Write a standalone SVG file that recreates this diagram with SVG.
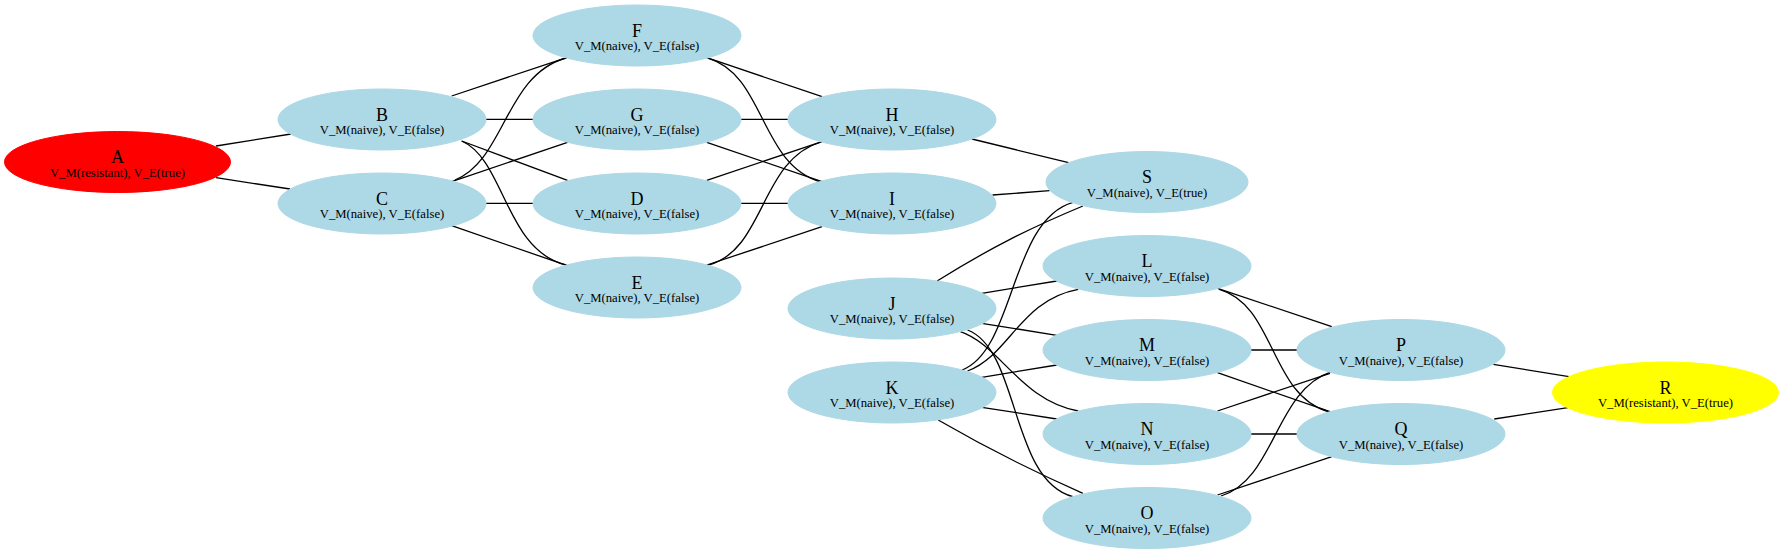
<svg xmlns="http://www.w3.org/2000/svg" width="1784" height="554" viewBox="0 0 1784 554">
<style>
.nb{fill:#add8e6;stroke:#add8e6;stroke-width:1}
.nr{fill:#ff0000;stroke:#ff0000;stroke-width:1}
.ny{fill:#ffff00;stroke:#ffff00;stroke-width:1}
.t{font-family:"Liberation Serif","Times New Roman",serif;font-size:18px;text-anchor:middle;fill:#000}
.s{font-family:"Liberation Serif","Times New Roman",serif;font-size:12.7px;text-anchor:middle;fill:#000}
.e{fill:none;stroke:#000;stroke-width:1.3}
</style>
<rect width="1784" height="554" fill="#fff"/>
<g id="edges">
<path class="e" d="M216,146L291,134"/>
<path class="e" d="M216,177.7L290,189"/>
<path class="e" d="M451.7,96L567.5,57.3"/>
<path class="e" d="M486,119.3L533,119.3"/>
<path class="e" d="M461.7,141L567.5,180.3"/>
<path class="e" d="M461.7,141C505,160 505,250 566,265"/>
<path class="e" d="M455,180C505,160 505,75 566,58"/>
<path class="e" d="M451.7,181.7L567.5,142.3"/>
<path class="e" d="M486,203.3L533,203.3"/>
<path class="e" d="M451.7,225.7L567.5,265.7"/>
<path class="e" d="M706.8,57.7L822.1,96.7"/>
<path class="e" d="M708.6,58.3C765,75 760,165 821,182"/>
<path class="e" d="M741,119.3L788,119.3"/>
<path class="e" d="M706.8,142.3L822,181.7"/>
<path class="e" d="M706.8,180.3L822,141.7"/>
<path class="e" d="M741,203.3L788,203.3"/>
<path class="e" d="M708.6,265C765,250 760,160 821,142"/>
<path class="e" d="M706.8,265L822,226.7"/>
<path class="e" d="M972,139L1068.6,162.7"/>
<path class="e" d="M992.5,195L1049.6,190.7"/>
<path class="e" d="M937.1,281C990,248 1030,228 1082.9,206"/>
<path class="e" d="M962,370C1015,350 1010,220 1073,202.3"/>
<path class="e" d="M981.8,293.3L1056.8,281"/>
<path class="e" d="M967.5,371C1010,355 1020,300 1078.2,289.3"/>
<path class="e" d="M981.8,323.3L1056.8,335.3"/>
<path class="e" d="M981.8,377.3L1056.8,365"/>
<path class="e" d="M960.4,331.7C1000,345 1020,400 1078.2,411"/>
<path class="e" d="M967.5,330C1020,350 1010,480 1072.9,496.7"/>
<path class="e" d="M981.8,407.3L1056.8,419"/>
<path class="e" d="M938.2,420C990,450 1030,470 1082.9,493.3"/>
<path class="e" d="M1217.5,288.3L1331.8,326.7"/>
<path class="e" d="M1219.3,289.3C1275,305 1270,395 1328.2,411.7"/>
<path class="e" d="M1250.7,350L1297.9,350"/>
<path class="e" d="M1217.5,372.7L1330,411.7"/>
<path class="e" d="M1217.5,411L1330,373.3"/>
<path class="e" d="M1250.7,434L1297.9,434"/>
<path class="e" d="M1217.5,495L1331.8,456.7"/>
<path class="e" d="M1221,496C1275,480 1275,390 1331.8,371.7"/>
<path class="e" d="M1493.3,364.3L1569,376.7"/>
<path class="e" d="M1494.3,419L1567.9,407.7"/>
</g>
<g id="A"><ellipse class="nr" cx="117.5" cy="162" rx="113" ry="30.5"/><text class="t" x="117.5" y="163">A</text><text class="s" x="117.5" y="176.5">V_M(resistant), V_E(true)</text></g>
<g id="B"><ellipse class="nb" cx="382" cy="119.5" rx="104" ry="30.5"/><text class="t" x="382" y="120.5">B</text><text class="s" x="382" y="134">V_M(naive), V_E(false)</text></g>
<g id="C"><ellipse class="nb" cx="382" cy="203.5" rx="104" ry="30.5"/><text class="t" x="382" y="204.5">C</text><text class="s" x="382" y="218">V_M(naive), V_E(false)</text></g>
<g id="F"><ellipse class="nb" cx="637" cy="35.5" rx="104" ry="30.5"/><text class="t" x="637" y="36.5">F</text><text class="s" x="637" y="50">V_M(naive), V_E(false)</text></g>
<g id="G"><ellipse class="nb" cx="637" cy="119.5" rx="104" ry="30.5"/><text class="t" x="637" y="120.5">G</text><text class="s" x="637" y="134">V_M(naive), V_E(false)</text></g>
<g id="D"><ellipse class="nb" cx="637" cy="203.5" rx="104" ry="30.5"/><text class="t" x="637" y="204.5">D</text><text class="s" x="637" y="218">V_M(naive), V_E(false)</text></g>
<g id="E"><ellipse class="nb" cx="637" cy="287.5" rx="104" ry="30.5"/><text class="t" x="637" y="288.5">E</text><text class="s" x="637" y="302">V_M(naive), V_E(false)</text></g>
<g id="H"><ellipse class="nb" cx="892" cy="119.5" rx="104" ry="30.5"/><text class="t" x="892" y="120.5">H</text><text class="s" x="892" y="134">V_M(naive), V_E(false)</text></g>
<g id="I"><ellipse class="nb" cx="892" cy="203.5" rx="104" ry="30.5"/><text class="t" x="892" y="204.5">I</text><text class="s" x="892" y="218">V_M(naive), V_E(false)</text></g>
<g id="J"><ellipse class="nb" cx="892" cy="308.5" rx="104" ry="30.5"/><text class="t" x="892" y="309.5">J</text><text class="s" x="892" y="323">V_M(naive), V_E(false)</text></g>
<g id="K"><ellipse class="nb" cx="892" cy="392.5" rx="104" ry="30.5"/><text class="t" x="892" y="393.5">K</text><text class="s" x="892" y="407">V_M(naive), V_E(false)</text></g>
<g id="S"><ellipse class="nb" cx="1147" cy="182" rx="101" ry="30.5"/><text class="t" x="1147" y="183">S</text><text class="s" x="1147" y="196.5">V_M(naive), V_E(true)</text></g>
<g id="L"><ellipse class="nb" cx="1147" cy="266" rx="104" ry="30.5"/><text class="t" x="1147" y="267">L</text><text class="s" x="1147" y="280.5">V_M(naive), V_E(false)</text></g>
<g id="M"><ellipse class="nb" cx="1147" cy="350" rx="104" ry="30.5"/><text class="t" x="1147" y="351">M</text><text class="s" x="1147" y="364.5">V_M(naive), V_E(false)</text></g>
<g id="N"><ellipse class="nb" cx="1147" cy="434" rx="104" ry="30.5"/><text class="t" x="1147" y="435">N</text><text class="s" x="1147" y="448.5">V_M(naive), V_E(false)</text></g>
<g id="O"><ellipse class="nb" cx="1147" cy="518" rx="104" ry="30.5"/><text class="t" x="1147" y="519">O</text><text class="s" x="1147" y="532.5">V_M(naive), V_E(false)</text></g>
<g id="P"><ellipse class="nb" cx="1401" cy="350" rx="104" ry="30.5"/><text class="t" x="1401" y="351">P</text><text class="s" x="1401" y="364.5">V_M(naive), V_E(false)</text></g>
<g id="Q"><ellipse class="nb" cx="1401" cy="434" rx="104" ry="30.5"/><text class="t" x="1401" y="435">Q</text><text class="s" x="1401" y="448.5">V_M(naive), V_E(false)</text></g>
<g id="R"><ellipse class="ny" cx="1665.5" cy="392.5" rx="113" ry="30.5"/><text class="t" x="1665.5" y="393.5">R</text><text class="s" x="1665.5" y="407">V_M(resistant), V_E(true)</text></g>
</svg>
